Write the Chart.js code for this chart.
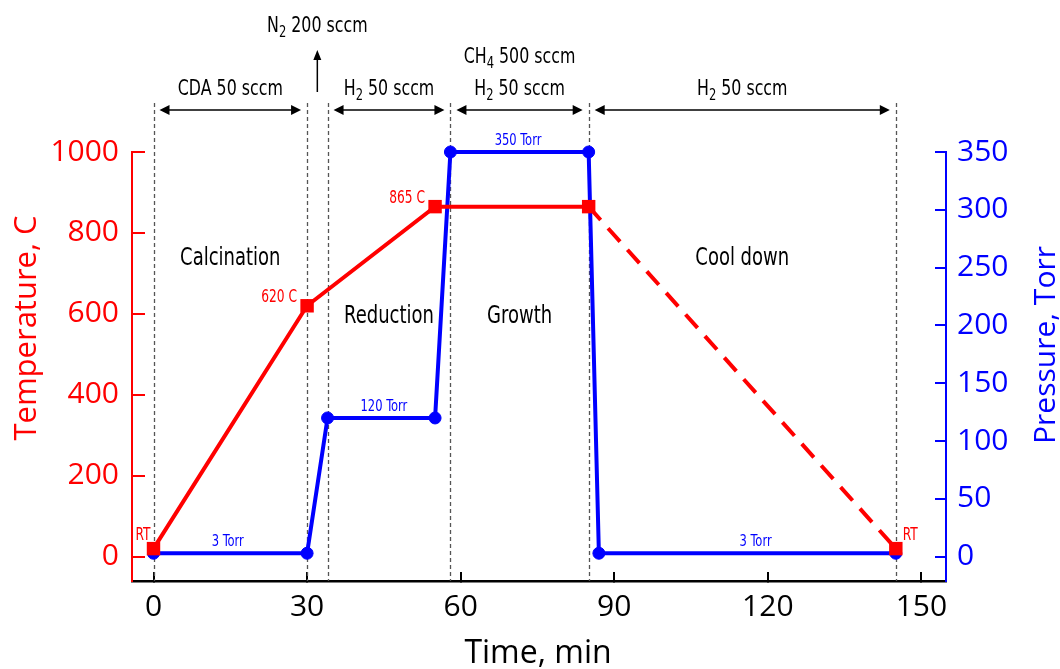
<!DOCTYPE html>
<html>
<head>
<meta charset="utf-8">
<script src="https://cdn.jsdelivr.net/npm/chart.js@4"></script>
<style>
  html, body { margin: 0; padding: 0; background: #fff; }
</style>
</head>
<body>
<canvas id="growthChart" width="1060" height="669"></canvas>
<script>
// tick labels
const timeTicks = [0, 30, 60, 90, 120, 150];
const tempTicks = [0, 200, 400, 600, 800, 1000];
const pressTicks = [0, 50, 100, 150, 200, 250, 300, 350];

// temperature profile (C)
const tempTime = [0, 30, 55, 85, 145];
const tempValues = [20, 620, 865, 865, 20];
const tempNotes = ['RT', '620 C', '865 C', '', 'RT'];

// pressure profile (Torr)
const pressTime = [0, 30, 34, 55, 58, 85, 87, 145];
const pressValues = [3, 3, 120, 120, 350, 350, 3, 3];
const pressNotes = ['3 Torr', '120 Torr', '350 Torr', '3 Torr'];
const pressNoteTime = [14.5, 45, 71.2, 117.6];
const pressNoteValue = [3, 120, 350, 3];

// process steps
const stepTimes = [0, 30, 34, 58, 85, 145];
const phaseNames = ['Calcination', 'Reduction', 'Growth', 'Cool down'];
const phaseTime = [15, 46, 71.5, 115];
const phaseTemp = [720, 578, 578, 720];

// gas flows
const gasFrom = [0, 34, 58, 85];
const gasTo = [30, 58, 85, 145];
const gasLabels = ['CDA 50 sccm', 'H_2 50 sccm', 'H_2 50 sccm', 'H_2 50 sccm'];
const extraGas = 'CH_4 500 sccm';
const purgeGas = 'N_2 200 sccm';
const purgeTime = 32;

const RED = 'rgb(255, 0, 0)';
const BLUE = 'rgb(0, 0, 255)';
const NARROW = '"Liberation Sans Narrow", "DejaVu Sans Condensed", "Roboto Condensed", sans-serif';
const SANS = '"Open Sans", "Liberation Sans", sans-serif';
const SQUEEZE = 0.8; // annotation text in the original is a condensed face

function drawRich(ctx, text, x0, baseline, size, color, align) {
  const parts = text.split(/_(\d)/);
  const mainFont = `${size}px ${NARROW}`;
  const subFont = `${Math.round(size * 0.72)}px ${NARROW}`;
  let total = 0;
  parts.forEach((p, i) => {
    ctx.font = i % 2 ? subFont : mainFont;
    total += ctx.measureText(p).width;
  });
  const w = total * SQUEEZE;
  const left = align === 'center' ? x0 - w / 2 : align === 'right' ? x0 - w : x0;
  ctx.save();
  ctx.translate(left, baseline);
  ctx.scale(SQUEEZE, 1);
  ctx.fillStyle = color;
  ctx.textAlign = 'left';
  ctx.textBaseline = 'alphabetic';
  let x = 0;
  parts.forEach((p, i) => {
    ctx.font = i % 2 ? subFont : mainFont;
    ctx.fillText(p, x, i % 2 ? size * 0.22 : 0);
    x += ctx.measureText(p).width;
  });
  ctx.restore();
}

function arrowHead(ctx, x, y, dir) {
  // dir: 1 = pointing right, -1 = left, 'up'
  ctx.beginPath();
  if (dir === 'up') {
    ctx.moveTo(x, y);
    ctx.lineTo(x - 4, y + 10);
    ctx.lineTo(x + 4, y + 10);
  } else {
    ctx.moveTo(x, y);
    ctx.lineTo(x - dir * 10, y - 5);
    ctx.lineTo(x - dir * 10, y + 5);
  }
  ctx.closePath();
  ctx.fill();
}

const annotate = {
  id: 'annotate',
  beforeDatasetsDraw(chart) {
    const { ctx, chartArea, scales: { x } } = chart;
    ctx.save();
    ctx.strokeStyle = '#555';
    ctx.lineWidth = 1.3;
    ctx.setLineDash([4, 3]);
    stepTimes.forEach(t => {
      const px = Math.round(x.getPixelForValue(t)) + 0.5;
      ctx.beginPath();
      ctx.moveTo(px, 103);
      ctx.lineTo(px, chartArea.bottom);
      ctx.stroke();
    });
    ctx.restore();
  },
  afterDatasetsDraw(chart) {
    const { ctx, scales: { x, yT, yP } } = chart;
    ctx.save();

    // gas flow arrows
    ctx.strokeStyle = '#000';
    ctx.fillStyle = '#000';
    ctx.lineWidth = 1.5;
    gasFrom.forEach((t, i) => {
      const a = x.getPixelForValue(t) + 6;
      const b = x.getPixelForValue(gasTo[i]) - 6;
      ctx.beginPath();
      ctx.moveTo(a + 4, 110);
      ctx.lineTo(b - 4, 110);
      ctx.stroke();
      arrowHead(ctx, a, 110, -1);
      arrowHead(ctx, b, 110, 1);
      drawRich(ctx, gasLabels[i], (a + b) / 2, 95, 22, '#000', 'center');
    });
    const g3 = (x.getPixelForValue(gasFrom[2]) + x.getPixelForValue(gasTo[2])) / 2;
    drawRich(ctx, extraGas, g3, 63, 22, '#000', 'center');

    const nx = x.getPixelForValue(purgeTime);
    ctx.beginPath();
    ctx.moveTo(nx, 92);
    ctx.lineTo(nx, 56);
    ctx.stroke();
    arrowHead(ctx, nx, 50, 'up');
    drawRich(ctx, purgeGas, nx, 32, 22, '#000', 'center');

    // phase names
    phaseNames.forEach((name, i) => {
      drawRich(ctx, name, x.getPixelForValue(phaseTime[i]), yT.getPixelForValue(phaseTemp[i]), 25, '#000', 'center');
    });

    // temperature notes
    tempNotes.forEach((note, i) => {
      if (!note) return;
      const px = x.getPixelForValue(tempTime[i]);
      const py = yT.getPixelForValue(tempValues[i]);
      if (i === 0) drawRich(ctx, note, px - 3, py - 9, 17, RED, 'right');
      else if (i === tempNotes.length - 1) drawRich(ctx, note, px + 7, py - 9, 17, RED, 'left');
      else drawRich(ctx, note, px - 10, py - 4, 17, RED, 'right');
    });

    // pressure notes
    pressNotes.forEach((note, i) => {
      drawRich(ctx, note, x.getPixelForValue(pressNoteTime[i]), yP.getPixelForValue(pressNoteValue[i]) - 7, 16, BLUE, 'center');
    });

    // axis titles
    ctx.textAlign = 'center';
    ctx.textBaseline = 'alphabetic';
    ctx.font = `31px ${SANS}`;
    ctx.fillStyle = RED;
    ctx.save();
    ctx.translate(36, 328);
    ctx.rotate(-Math.PI / 2);
    ctx.fillText('Temperature, C', 0, 0);
    ctx.restore();

    ctx.font = `30px ${SANS}`;
    ctx.fillStyle = BLUE;
    ctx.save();
    ctx.translate(1055, 345);
    ctx.rotate(-Math.PI / 2);
    ctx.fillText('Pressure, Torr', 0, 0);
    ctx.restore();

    ctx.font = `32px ${SANS}`;
    ctx.fillStyle = '#000';
    ctx.fillText('Time, min', 538, 663);

    ctx.restore();
  }
};

const toPoints = (xs, ys) => xs.map((t, i) => ({ x: t, y: ys[i] }));

const axisTicks = (list) => (scale) => {
  scale.ticks = list.map(v => ({ value: v }));
};

const plainLabel = v => String(v);

new Chart(document.getElementById('growthChart'), {
  type: 'line',
  data: {
    datasets: [
      {
        label: 'Temperature',
        data: toPoints(tempTime, tempValues),
        yAxisID: 'yT',
        borderColor: RED,
        backgroundColor: RED,
        borderWidth: 4,
        pointStyle: 'rect',
        pointRadius: 9.5,
        pointBorderWidth: 0,
        tension: 0,
        clip: false,
        segment: {
          borderDash: ctx => ctx.p0DataIndex === 3 ? [18, 11] : undefined
        }
      },
      {
        label: 'Pressure',
        data: toPoints(pressTime, pressValues),
        yAxisID: 'yP',
        borderColor: BLUE,
        backgroundColor: BLUE,
        borderWidth: 4,
        pointStyle: 'circle',
        pointRadius: 6,
        pointBorderWidth: 1,
        tension: 0,
        clip: false
      }
    ]
  },
  options: {
    responsive: false,
    animation: false,
    layout: { padding: { top: 152, left: 0, right: 0, bottom: 0 } },
    plugins: {
      legend: { display: false },
      tooltip: { enabled: false }
    },
    scales: {
      x: {
        type: 'linear',
        min: -4.2,
        max: 154.8,
        afterBuildTicks: axisTicks(timeTicks),
        afterFit: s => { s.height = 88; },
        grid: { drawOnChartArea: false, color: '#000', lineWidth: 2, tickLength: -9 },
        border: { color: '#000', width: 2.5 },
        ticks: { color: '#000', font: { family: SANS, size: 30 }, padding: 17, maxRotation: 0, autoSkip: false, callback: plainLabel }
      },
      yT: {
        position: 'left',
        min: -60,
        max: 1000,
        afterBuildTicks: axisTicks(tempTicks),
        afterFit: s => { s.width = 132; },
        grid: { drawOnChartArea: false, color: RED, lineWidth: 2, tickLength: -13 },
        border: { color: RED, width: 2 },
        ticks: { color: RED, font: { family: SANS, size: 30 }, padding: 26, autoSkip: false, callback: plainLabel }
      },
      yP: {
        position: 'right',
        min: -21,
        max: 350,
        afterBuildTicks: axisTicks(pressTicks),
        afterFit: s => { s.width = 114; },
        grid: { drawOnChartArea: false, color: BLUE, lineWidth: 2, tickLength: -11 },
        border: { color: BLUE, width: 2 },
        ticks: { color: BLUE, font: { family: SANS, size: 30 }, padding: 22, autoSkip: false, callback: plainLabel }
      }
    }
  },
  plugins: [annotate]
});
</script>
</body>
</html>
